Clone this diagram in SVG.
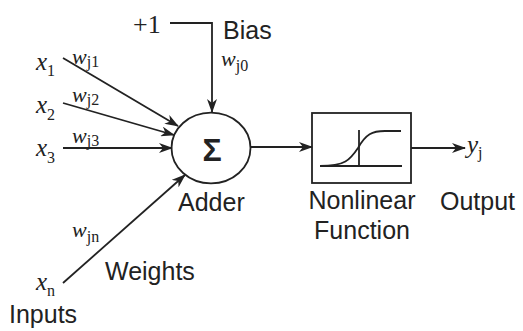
<svg xmlns="http://www.w3.org/2000/svg" width="523" height="331" viewBox="0 0 523 331">
<style>
.ln{stroke:#222;stroke-width:1.8;fill:none}
.lbl{font-family:"Liberation Sans",Arial,sans-serif;font-size:25px;fill:#222}
.m{font-family:"Liberation Serif","Times New Roman",serif;font-style:italic;font-size:25px;fill:#222}
.w{font-family:"Liberation Serif","Times New Roman",serif;font-style:italic;font-size:22px;fill:#222}
.s{font-size:16px;font-style:normal}
</style>
<defs>
<marker id="ah" markerWidth="14" markerHeight="10" refX="13" refY="5" orient="auto" markerUnits="userSpaceOnUse">
<path d="M0,0 L14,5 L0,10 L4,5 z" fill="#222"/>
</marker>
</defs>
<rect width="523" height="331" fill="#fff"/>
<g id="connectors">
<line class="ln" x1="63" y1="58" x2="178" y2="126" marker-end="url(#ah)"/>
<line class="ln" x1="63" y1="103" x2="174" y2="135" marker-end="url(#ah)"/>
<line class="ln" x1="63" y1="148" x2="172" y2="148" marker-end="url(#ah)"/>
<line class="ln" x1="63" y1="283" x2="185" y2="175" marker-end="url(#ah)"/>
<polyline class="ln" points="170,23 212,23 212,112" marker-end="url(#ah)"/>
<line class="ln" x1="251" y1="147" x2="312" y2="147" marker-end="url(#ah)"/>
<line class="ln" x1="411" y1="148" x2="465" y2="148" marker-end="url(#ah)"/>
</g>
<g id="inputs">
<text class="m" x="36" y="70">x<tspan class="s" dy="6">1</tspan></text>
<text class="m" x="36" y="113">x<tspan class="s" dy="7">2</tspan></text>
<text class="m" x="36" y="156">x<tspan class="s" dy="7">3</tspan></text>
<text class="m" x="36" y="290">x<tspan class="s" dy="6">n</tspan></text>
<text class="lbl" x="9" y="323">Inputs</text>
</g>
<g id="weights">
<text class="w" x="72" y="64">w<tspan class="s" dy="3">j1</tspan></text>
<text class="w" x="72" y="102">w<tspan class="s" dy="3">j2</tspan></text>
<text class="w" x="72" y="143">w<tspan class="s" dy="3">j3</tspan></text>
<text class="w" x="72" y="237">w<tspan class="s" dy="5">jn</tspan></text>
<text class="lbl" x="105" y="280">Weights</text>
</g>
<g id="bias">
<text x="133" y="33" style="font-family:'Liberation Serif','Times New Roman',serif;font-size:26px;fill:#222">+1</text>
<text class="lbl" x="223" y="39">Bias</text>
<text class="w" x="221" y="66">w<tspan class="s" dy="5">j0</tspan></text>
</g>
<g id="adder">
<ellipse class="ln" cx="211" cy="148" rx="39.5" ry="35.3"/>
<text x="212" y="161" text-anchor="middle" style="font-family:'Liberation Sans',Arial,sans-serif;font-size:32px;font-weight:bold;fill:#222">Σ</text>
<text class="lbl" x="178" y="211">Adder</text>
</g>
<g id="nonlinear">
<rect class="ln" x="312" y="113" width="99" height="70"/>
<line class="ln" x1="320" y1="166" x2="402" y2="166"/>
<line class="ln" x1="359" y1="130" x2="359" y2="166"/>
<path class="ln" d="M320,166 C345,166 350,160 358,148 C366,134 372,131 385,131 L401,131"/>
<text class="lbl" x="362" y="209" text-anchor="middle">Nonlinear</text>
<text class="lbl" x="362" y="239" text-anchor="middle">Function</text>
</g>
<g id="output">
<text class="m" x="467" y="153">y<tspan class="s" dy="5">j</tspan></text>
<text class="lbl" x="440" y="210">Output</text>
</g>
</svg>
